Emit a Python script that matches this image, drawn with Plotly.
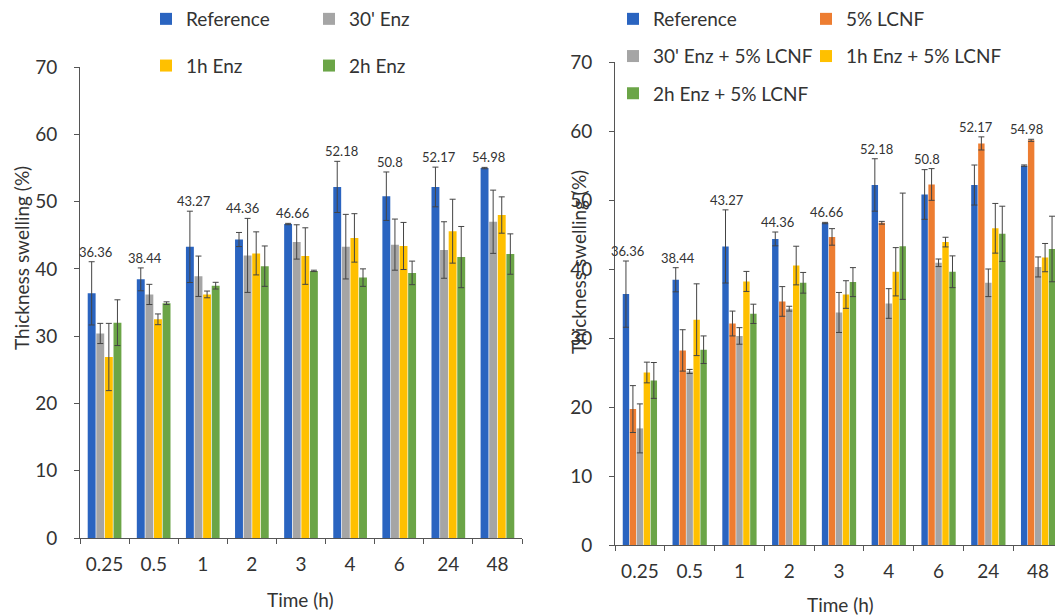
import plotly.graph_objects as go

# ---------------- data ----------------
times = ['0.25', '0.5', '1', '2', '3', '4', '6', '24', '48']

# left panel
ref_left = [36.36, 38.44, 43.27, 44.36, 46.66, 52.18, 50.8, 52.17, 54.98]
ref_left_err = [4.7, 1.7, 5.3, 1.05, 0.1, 3.8, 3.6, 2.95, 0.1]
enz30 = [30.4, 36.2, 38.9, 42.0, 44.0, 43.3, 43.6, 42.8, 47.0]
enz30_err = [1.5, 1.5, 3.0, 5.5, 2.55, 4.8, 3.8, 4.2, 4.7]
enz1h = [26.9, 32.5, 36.2, 42.3, 41.9, 44.6, 43.4, 45.6, 48.0]
enz1h_err = [5.0, 0.8, 0.5, 3.2, 4.2, 3.6, 3.5, 4.75, 2.7]
enz2h = [32.0, 34.9, 37.5, 40.4, 39.7, 38.7, 39.4, 41.75, 42.2]
enz2h_err = [3.4, 0.2, 0.5, 3.0, 0.1, 1.3, 1.75, 4.55, 3.0]

# right panel
ref_right = [36.36, 38.44, 43.27, 44.36, 46.66, 52.18, 50.8, 52.17, 54.98]
ref_right_err = [4.8, 1.75, 5.3, 1.0, 0.1, 3.8, 3.6, 2.9, 0.1]
lcnf = [19.7, 28.2, 32.1, 35.3, 44.65, 46.7, 52.25, 58.2, 58.65]
lcnf_err = [3.4, 3.0, 1.8, 2.15, 1.2, 0.2, 2.3, 0.95, 0.15]
enz30_lcnf = [16.9, 25.15, 30.3, 34.25, 33.7, 35.0, 40.9, 38.0, 40.3]
enz30_lcnf_err = [3.55, 0.3, 1.2, 0.35, 2.9, 2.15, 0.55, 2.0, 1.45]
enz1h_lcnf = [25.0, 32.65, 38.2, 40.5, 36.3, 39.6, 43.9, 45.9, 41.65]
enz1h_lcnf_err = [1.5, 5.2, 1.45, 2.8, 2.0, 3.5, 0.7, 3.6, 2.05]
enz2h_lcnf = [23.85, 28.3, 33.5, 38.0, 38.1, 43.3, 39.6, 45.1, 42.9]
enz2h_lcnf_err = [2.6, 2.0, 1.4, 1.5, 2.1, 7.7, 2.3, 4.0, 4.75]

y_ticks = [0, 10, 20, 30, 40, 50, 60, 70]

# ---------------- style ----------------
BLUE = '#2A64C0'
ORANGE = '#ED7D31'
GRAY = '#A5A5A5'
YELLOW = '#FFC000'
GREEN = '#6BA547'
FONT = 'Lato'
TXT = '#333333'
AX = '#555555'
ERRC = '#444444'

OFF = 8                      # page body margin
W, H = 1063 - OFF, 616 - OFF


def px_x(p):
    return (p - OFF) / W


def px_y(p):
    return 1 - (p - OFF) / H


fig = go.Figure()


def add_bar(name, vals, errs, color, xa, ya, legend, grp):
    fig.add_trace(go.Bar(
        x=times, y=vals, name=name, marker=dict(color=color, line=dict(width=0)),
        error_y=dict(type='data', array=errs, visible=True, color=ERRC,
                     thickness=1, width=3),
        xaxis=xa, yaxis=ya, legend=legend, legendgroup=grp))


add_bar('Reference', ref_left, ref_left_err, BLUE, 'x', 'y', 'legend', 'l1')
add_bar("30' Enz", enz30, enz30_err, GRAY, 'x', 'y', 'legend2', 'l2')
add_bar('1h Enz', enz1h, enz1h_err, YELLOW, 'x', 'y', 'legend', 'l3')
add_bar('2h Enz', enz2h, enz2h_err, GREEN, 'x', 'y', 'legend2', 'l4')

add_bar('Reference', ref_right, ref_right_err, BLUE, 'x2', 'y2', 'legend3', 'r1')
add_bar('5% LCNF', lcnf, lcnf_err, ORANGE, 'x2', 'y2', 'legend4', 'r2')
add_bar("30' Enz + 5% LCNF", enz30_lcnf, enz30_lcnf_err, GRAY, 'x2', 'y2', 'legend3', 'r3')
add_bar('1h Enz + 5% LCNF', enz1h_lcnf, enz1h_lcnf_err, YELLOW, 'x2', 'y2', 'legend4', 'r4')
add_bar('2h Enz + 5% LCNF', enz2h_lcnf, enz2h_lcnf_err, GREEN, 'x2', 'y2', 'legend3', 'r5')

# data labels on reference bars, placed above the tallest error bar nearby
annotations = []
left_groups = [(ref_left, ref_left_err), (enz30, enz30_err), (enz1h, enz1h_err), (enz2h, enz2h_err)]
right_groups = [(ref_right, ref_right_err), (lcnf, lcnf_err)]
for i, t in enumerate(times):
    top_l = max(v[i] + e[i] for v, e in left_groups)
    annotations.append(dict(x=i, y=top_l, xref='x', yref='y', text=f'{ref_left[i]:g}',
                            showarrow=False, yanchor='bottom', xshift=-9, yshift=0,
                            font=dict(family=FONT, size=13, color=TXT)))
    top_r = max(v[i] + e[i] for v, e in right_groups)
    annotations.append(dict(x=i, y=top_r, xref='x2', yref='y2', text=f'{ref_right[i]:g}',
                            showarrow=False, yanchor='bottom', xshift=-12, yshift=0,
                            font=dict(family=FONT, size=13, color=TXT)))

# axis titles
annotations += [
    dict(x=px_x(300), y=px_y(599), xref='paper', yref='paper', text='Time (h)', showarrow=False,
         font=dict(family=FONT, size=19, color=TXT), xanchor='center', yanchor='middle'),
    dict(x=px_x(840), y=px_y(604), xref='paper', yref='paper', text='Time (h)', showarrow=False,
         font=dict(family=FONT, size=19, color=TXT), xanchor='center', yanchor='middle'),
    dict(x=px_x(22), y=px_y(258), xref='paper', yref='paper', text='Thickness swelling (%)',
         showarrow=False, textangle=-90,
         font=dict(family=FONT, size=19, color=TXT), xanchor='center', yanchor='middle'),
    dict(x=px_x(578), y=px_y(262), xref='paper', yref='paper', text='Thickness swelling (%)',
         showarrow=False, textangle=-90,
         font=dict(family=FONT, size=19, color=TXT), xanchor='center', yanchor='middle'),
]

xax = dict(type='category', range=[-0.5, 8.5], showline=True, linecolor=AX, linewidth=1,
           ticks='outside', tickson='boundaries', ticklen=5, tickcolor=AX, showgrid=False,
           zeroline=False, tickangle=0, automargin=False, ticklabelstandoff=9,
           tickfont=dict(family=FONT, size=19, color=TXT), fixedrange=True)
yax = dict(range=[0, 70], tickvals=y_ticks, showline=True, linecolor=AX, linewidth=1,
           ticks='outside', ticklen=5, tickcolor=AX, showgrid=False, zeroline=False,
           automargin=False,
           tickfont=dict(family=FONT, size=19, color=TXT), ticklabelstandoff=13)

leg_common = dict(orientation='v', xanchor='left', yanchor='top', bgcolor='rgba(0,0,0,0)',
                  font=dict(family=FONT, size=19, color=TXT),
                  itemclick=False, itemdoubleclick=False)

fig.update_layout(
    width=W, height=H,
    margin=dict(l=0, r=0, t=0, b=0, autoexpand=False),
    paper_bgcolor='white', plot_bgcolor='white',
    barmode='group', bargap=0.3, bargroupgap=0.08,
    font=dict(family=FONT, color=TXT),
    xaxis=dict(xax, domain=[px_x(80), px_x(522)], anchor='y'),
    yaxis=dict(yax, domain=[px_y(538), px_y(67)], anchor='x'),
    xaxis2=dict(xax, domain=[px_x(615), 1.0], anchor='y2'),
    yaxis2=dict(yax, domain=[px_y(545), px_y(62)], anchor='x2'),
    legend=dict(leg_common, x=px_x(146), y=px_y(0), tracegroupgap=19),
    legend2=dict(leg_common, x=px_x(309), y=px_y(0), tracegroupgap=19),
    legend3=dict(leg_common, x=px_x(613), y=px_y(0), tracegroupgap=9.5),
    legend4=dict(leg_common, x=px_x(806), y=px_y(0), tracegroupgap=9.5),
    annotations=annotations,
    showlegend=True,
)

fig.write_html('out.html')
